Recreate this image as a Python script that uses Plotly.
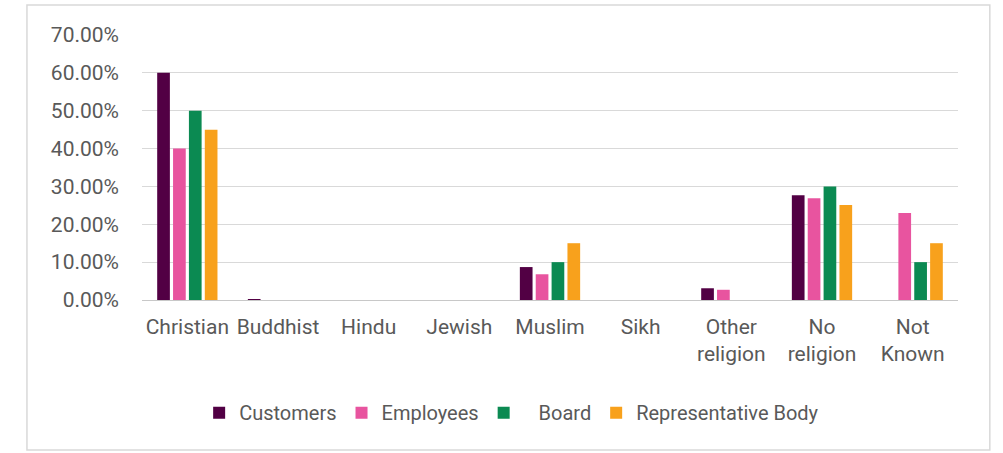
import plotly.graph_objects as go

categories = ["Christian", "Buddhist", "Hindu", "Jewish", "Muslim", "Sikh",
              "Other<br>religion", "No<br>religion", "Not<br>Known"]

customers = [0.600, 0.002, 0.0, 0.0, 0.087, 0.0, 0.031, 0.277, 0.0]
employees = [0.400, 0.0, 0.0, 0.0, 0.068, 0.0, 0.027, 0.269, 0.230]
board = [0.500, 0.0, 0.0, 0.0, 0.100, 0.0, 0.0, 0.300, 0.100]
representative = [0.450, 0.0, 0.0, 0.0, 0.150, 0.0, 0.0, 0.251, 0.150]

series = [
    ("Customers", customers, "#520044"),
    ("Employees", employees, "#e8549f"),
    ("\u00a0\u00a0\u00a0Board", board, "#0b8a52"),
    ("Representative Body", representative, "#f8a11c"),
]

fig = go.Figure()
for name, vals, color in series:
    fig.add_trace(go.Bar(x=categories, y=vals, name=name,
                         marker=dict(color=color, line=dict(width=0))))

font = "Roboto"
fig.update_layout(
    width=1003, height=453,
    margin=dict(l=142, r=45, t=35, b=153),
    paper_bgcolor="white", plot_bgcolor="white",
    barmode="group", bargap=0.3, bargroupgap=0.2,
    font=dict(family=font, color="#595959", size=20),
    showlegend=True,
    legend=dict(orientation="h", x=0.453, xanchor="center", y=-0.425, yanchor="middle",
                font=dict(size=20, color="#595959"), itemwidth=30,
                traceorder="normal"),
    xaxis=dict(showgrid=False, showline=False, ticks="",
               ticklabelstandoff=12,
               tickfont=dict(size=21, color="#595959"), fixedrange=True),
    yaxis=dict(range=[0, 0.70], dtick=0.10, tickformat=".2%",
               showgrid=True, gridcolor="#d9d9d9", gridwidth=1,
               zeroline=True, zerolinecolor="#c8c8c8", zerolinewidth=1,
               showline=False, ticks="", ticklabelstandoff=22,
               tickfont=dict(size=21, color="#595959")),
    shapes=[dict(type="rect", xref="paper", yref="paper",
                 x0=-0.141, x1=1.039, y0=-0.566, y1=1.113,
                 line=dict(color="#d9d9d9", width=1.5), layer="below")],
)

fig.write_html("out.html")
